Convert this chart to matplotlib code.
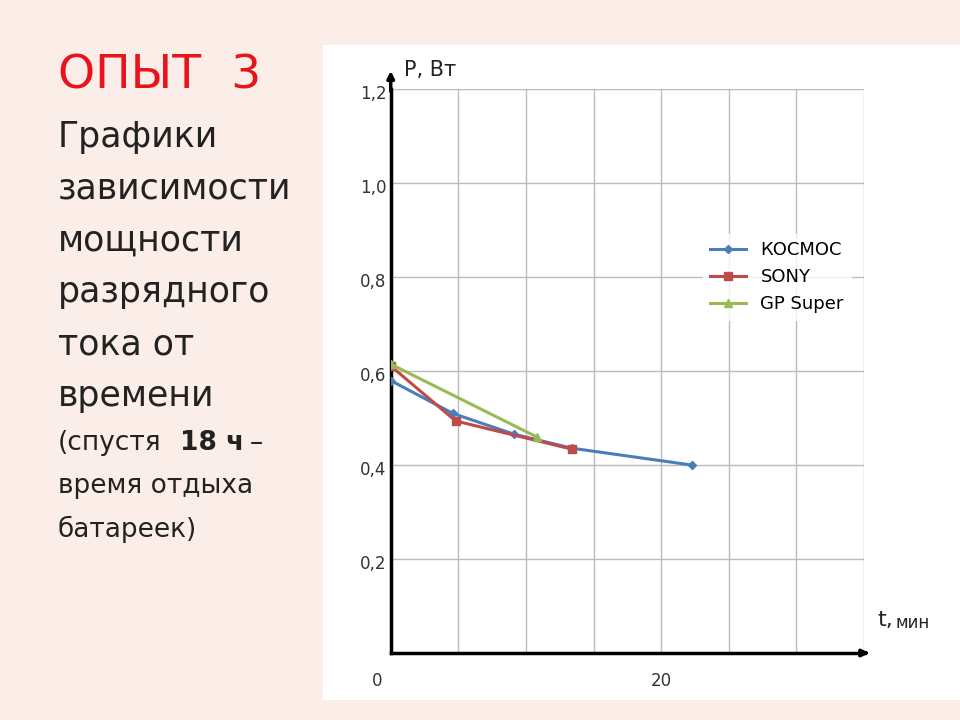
import matplotlib
matplotlib.use("Agg")
import matplotlib.pyplot as plt

kosmos_t = [0, 4.6, 9.1, 13.4, 22.3]
kosmos_p = [0.58, 0.51, 0.466, 0.436, 0.40]
sony_t = [0, 4.8, 13.4]
sony_p = [0.611, 0.494, 0.434]
gp_t = [0, 10.8]
gp_p = [0.615, 0.46]
ytick_vals = [0.2, 0.4, 0.6, 0.8, 1.0, 1.2]
ytick_labels = ["0,2", "0,4", "0,6", "0,8", "1,0", "1,2"]

fig = plt.figure(figsize=(9.6, 7.2), dpi=100)
fig.patch.set_facecolor("#fbeee9")
bg = fig.add_axes([0.336, 0.028, 0.664, 0.91], zorder=-1)
bg.set_facecolor("white")
bg.set_xticks([]); bg.set_yticks([])
for s in bg.spines.values():
    s.set_visible(False)

ax = fig.add_axes([0.407, 0.093, 0.493, 0.783], zorder=1)
ax.set_facecolor("none")
ax.set_xlim(0, 35)
ax.set_ylim(0, 1.2)
for x in range(5, 36, 5):
    ax.axvline(x, color="#bbbbbb", lw=1, zorder=1)
for y in ytick_vals:
    ax.axhline(y, color="#bbbbbb", lw=1, zorder=1)
for s in ["top", "right"]:
    ax.spines[s].set_visible(False)
for s in ["left", "bottom"]:
    ax.spines[s].set_linewidth(2.5)
    ax.spines[s].set_color("black")
ax.set_xticks([])
ax.set_yticks([])
for v, l in zip(ytick_vals, ytick_labels):
    ax.text(-0.3, v - 0.01, l, ha="right", va="center", fontsize=12, color="#333333")
ax.text(-0.6, -0.04, "0", ha="right", va="top", fontsize=12, color="#333333")
ax.text(20, -0.04, "20", ha="center", va="top", fontsize=12, color="#333333")
ax.annotate("", xy=(0, 1.245), xytext=(0, 1.19), annotation_clip=False,
            arrowprops=dict(arrowstyle="-|>", color="black", lw=2.5))
ax.annotate("", xy=(35.6, 0), xytext=(34.8, 0), annotation_clip=False,
            arrowprops=dict(arrowstyle="-|>", color="black", lw=2.5))
ax.text(1.0, 1.24, "P, Вт", fontsize=15, color="#222222", va="center")
ax.text(36.0, 0.07, "t,", fontsize=16, color="#222222", va="center")
ax.text(37.3, 0.065, "мин", fontsize=12, color="#222222", va="center")

ax.plot(kosmos_t, kosmos_p, color="#4a7ebb", lw=2.2, marker="D", ms=4, label="КОСМОС", zorder=3)
ax.plot(sony_t, sony_p, color="#be4b48", lw=2.2, marker="s", ms=6, label="SONY", zorder=3)
ax.plot(gp_t, gp_p, color="#98b954", lw=2.2, marker="^", ms=6, label="GP Super", zorder=4)
ax.legend(loc="upper left", bbox_to_anchor=(0.64, 0.76), frameon=True, edgecolor="white",
          facecolor="white", fontsize=13, handlelength=2, labelspacing=0.5)

fig.text(0.06, 0.895, "ОПЫТ  3", color="#e8131b", fontsize=34, va="center")
lines = ["Графики", "зависимости", "мощности", "разрядного", "тока от", "времени"]
for i, l in enumerate(lines):
    fig.text(0.06, 0.81 - i * 0.072, l, color="#222222", fontsize=25, va="center")
fig.text(0.06, 0.385, "(спустя", color="#222222", fontsize=19, va="center")
fig.text(0.188, 0.385, "18 ч", color="#222222", fontsize=19, va="center", weight="bold")
fig.text(0.26, 0.385, "–", color="#222222", fontsize=19, va="center")
fig.text(0.06, 0.325, "время отдыха", color="#222222", fontsize=19, va="center")
fig.text(0.06, 0.265, "батареек)", color="#222222", fontsize=19, va="center")

fig.savefig("out.png", dpi=100, facecolor=fig.get_facecolor())
